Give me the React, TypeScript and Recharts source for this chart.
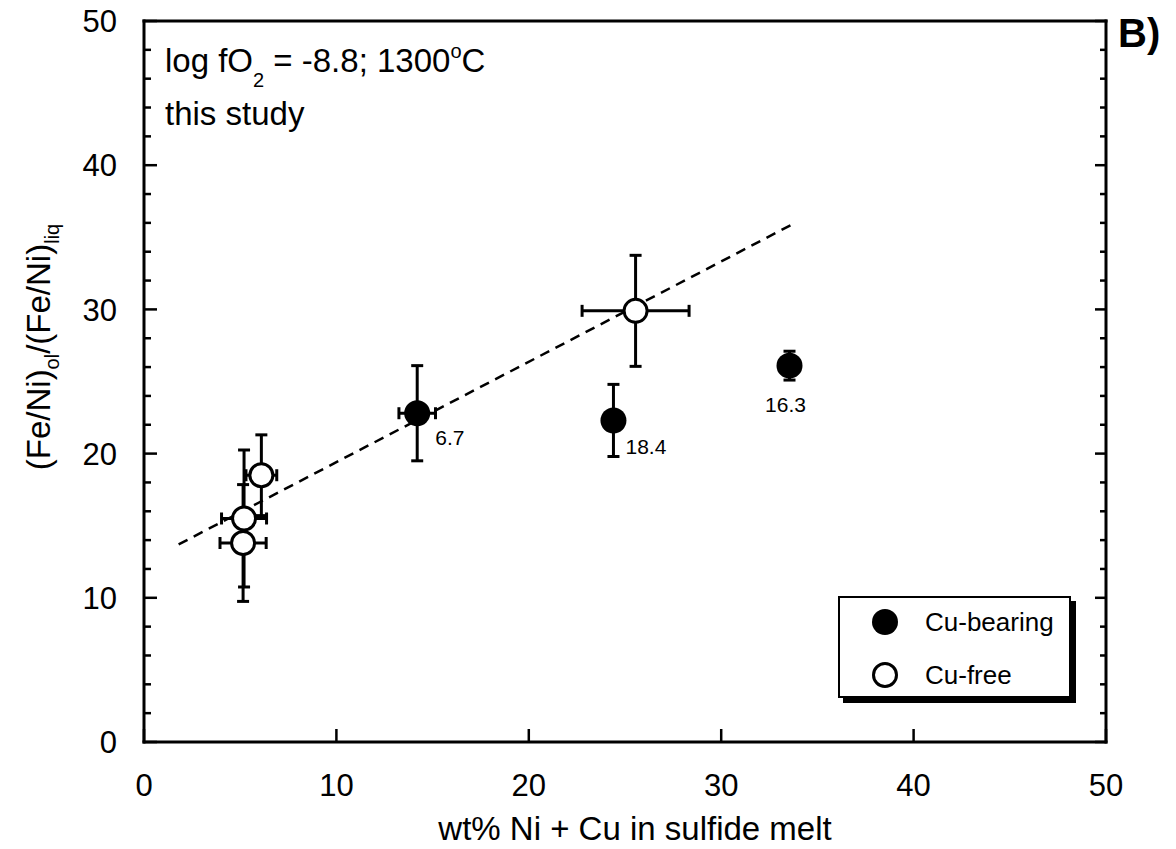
import { ScatterChart, Scatter, XAxis, YAxis, ErrorBar, Legend } from 'recharts'

// axis ticks
const xTicks = [0, 10, 20, 30, 40, 50]
const yTicks = [0, 2, 4, 6, 8, 10, 12, 14, 16, 18, 20, 22, 24, 26, 28, 30, 32, 34, 36, 38, 40, 42, 44, 46, 48, 50]

// Cu-bearing experiments
const cuBearingX = [14.2, 24.4, 33.55]
const cuBearingY = [22.8, 22.3, 26.1]
const cuBearingXErr = [0.95, 0, 0]
const cuBearingYErr = [3.3, 2.5, 1.0]
const cuBearingLabels = ['6.7', '18.4', '16.3']

// Cu-free experiments
const cuFreeX = [5.15, 5.2, 6.1, 25.55]
const cuFreeY = [13.8, 15.5, 18.5, 29.9]
const cuFreeXErr = [1.2, 1.17, 0.8, 2.78]
const cuFreeYErr = [4.05, 4.75, 2.8, 3.85]

// dashed trend line end points
const trendX = [1.8, 33.7]
const trendY = [13.7, 35.9]

const FONT = '"Liberation Sans", Arial, Helvetica, sans-serif'

const cuBearing = cuBearingX.map((x, i) => ({
  x,
  y: cuBearingY[i],
  ex: cuBearingXErr[i],
  ey: cuBearingYErr[i],
  label: cuBearingLabels[i],
}))
const cuFree = cuFreeX.map((x, i) => ({ x, y: cuFreeY[i], ex: cuFreeXErr[i], ey: cuFreeYErr[i] }))
const trend = trendX.map((x, i) => ({ x, y: trendY[i] }))

// label placement next to the filled points: [dx, dy, anchor]
const labelPos: Record<string, [number, number, string]> = {
  '6.7': [18, 32, 'start'],
  '18.4': [12, 34, 'start'],
  '16.3': [-4, 46, 'middle'],
}

const LeftTick = (props: any) => {
  const { x, y, payload } = props
  const major = payload.value % 10 === 0
  return (
    <g>
      <line x1={x} y1={y} x2={x + (major ? 13 : 7)} y2={y} stroke="#000" strokeWidth={2.5} />
      {major && (
        <text x={x - 27} y={y} dy="0.36em" textAnchor="end" fontSize={31} fill="#000" fontFamily={FONT}>
          {payload.value}
        </text>
      )}
    </g>
  )
}

const RightTick = (props: any) => {
  const { x, y, payload } = props
  const major = payload.value % 10 === 0
  return <line x1={x} y1={y} x2={x - (major ? 11 : 6)} y2={y} stroke="#000" strokeWidth={2.5} />
}

const BottomTick = (props: any) => {
  const { x, y, payload } = props
  return (
    <g>
      <line x1={x} y1={y} x2={x} y2={y - 13} stroke="#000" strokeWidth={2.5} />
      <text x={x} y={y + 54} textAnchor="middle" fontSize={31} fill="#000" fontFamily={FONT}>
        {payload.value}
      </text>
    </g>
  )
}

const TopTick = (props: any) => {
  const { x, y } = props
  return <line x1={x} y1={y} x2={x} y2={y + 13} stroke="#000" strokeWidth={2.5} />
}

const FilledDot = (props: any) => {
  const { cx, cy, payload } = props
  const pos = labelPos[payload.label]
  return (
    <g>
      <circle cx={cx} cy={cy} r={13} fill="#000" />
      {pos && (
        <text x={cx + pos[0]} y={cy + pos[1]} textAnchor={pos[2]} fontSize={21} fill="#000" fontFamily={FONT}>
          {payload.label}
        </text>
      )}
    </g>
  )
}

const OpenDot = (props: any) => {
  const { cx, cy } = props
  return <circle cx={cx} cy={cy} r={11.5} fill="#fff" stroke="#000" strokeWidth={3} />
}

const NoDot = () => <g />

const LegendBox = (props: any) => {
  const items = (props.payload ?? []).filter((p: any) => p.value === 'Cu-bearing' || p.value === 'Cu-free')
  return (
    <div
      style={{
        position: 'relative',
        width: 233,
        height: 102,
        boxSizing: 'border-box',
        border: '2px solid #000',
        boxShadow: '5px 5px 0 #000',
        background: '#fff',
        fontFamily: FONT,
      }}
    >
      {items.map((p: any, i: number) => {
        const filled = p.value === 'Cu-bearing'
        return (
          <div
            key={p.value}
            style={{ position: 'absolute', left: 30, top: 9 + i * 53, height: 30, display: 'flex', alignItems: 'center' }}
          >
            <svg width={30} height={30}>
              <circle
                cx={15}
                cy={15}
                r={filled ? 13 : 11.5}
                fill={filled ? '#000' : '#fff'}
                stroke="#000"
                strokeWidth={filled ? 0 : 3}
              />
            </svg>
            <span style={{ marginLeft: 25, fontSize: 26, color: '#000', lineHeight: '30px' }}>{p.value}</span>
          </div>
        )
      })}
    </div>
  )
}

export default function App() {
  const axisLine = { stroke: '#000', strokeWidth: 3, strokeLinecap: 'square' as const }
  return (
    <div style={{ background: '#fff', width: 1176, height: 849, margin: '-8px 0 0 -8px' }}>
      <ScatterChart
        width={1176}
        height={849}
        margin={{ top: 16, right: 60, bottom: 47, left: 84 }}
        style={{ fontFamily: FONT }}
      >
        <XAxis
          xAxisId={0}
          type="number"
          dataKey="x"
          domain={[0, 50]}
          ticks={xTicks}
          interval={0}
          allowDataOverflow
          height={60}
          tickSize={0}
          tickMargin={0}
          tickLine={false}
          axisLine={axisLine}
          tick={BottomTick}
        />
        <XAxis
          xAxisId="top"
          orientation="top"
          type="number"
          domain={[0, 50]}
          ticks={xTicks}
          interval={0}
          allowDataOverflow
          height={5}
          tickSize={0}
          tickMargin={0}
          tickLine={false}
          axisLine={axisLine}
          tick={TopTick}
        />
        <YAxis
          yAxisId={0}
          type="number"
          dataKey="y"
          domain={[0, 50]}
          ticks={yTicks}
          interval={0}
          allowDataOverflow
          width={60}
          tickSize={0}
          tickMargin={0}
          tickLine={false}
          axisLine={axisLine}
          tick={LeftTick}
        />
        <YAxis
          yAxisId="right"
          orientation="right"
          type="number"
          domain={[0, 50]}
          ticks={yTicks}
          interval={0}
          allowDataOverflow
          width={10}
          tickSize={0}
          tickMargin={0}
          tickLine={false}
          axisLine={axisLine}
          tick={RightTick}
        />
        <Scatter
          name="trend"
          data={trend}
          line={{ stroke: '#000', strokeWidth: 2.5, strokeDasharray: '10 7' }}
          shape={NoDot}
          legendType="none"
          isAnimationActive={false}
        />
        <Scatter name="Cu-bearing" data={cuBearing} fill="#000" shape={FilledDot} isAnimationActive={false}>
          <ErrorBar dataKey="ex" direction="x" width={6} stroke="#000" strokeWidth={3} isAnimationActive={false} />
          <ErrorBar dataKey="ey" direction="y" width={6} stroke="#000" strokeWidth={3} isAnimationActive={false} />
        </Scatter>
        <Scatter name="Cu-free" data={cuFree} fill="#fff" shape={OpenDot} isAnimationActive={false}>
          <ErrorBar dataKey="ex" direction="x" width={6} stroke="#000" strokeWidth={3} isAnimationActive={false} />
          <ErrorBar dataKey="ey" direction="y" width={6} stroke="#000" strokeWidth={3} isAnimationActive={false} />
        </Scatter>
        <Legend
          layout="vertical"
          align="center"
          verticalAlign="middle"
          content={LegendBox}
          wrapperStyle={{ left: 838, top: 596, width: 233, height: 102 }}
        />

        <text x={165} y={72} fontSize={33} fill="#000" fontFamily={FONT}>
          log fO
          <tspan fontSize={20} dy={15}>2</tspan>
          <tspan dy={-15}> = -8.8; 1300</tspan>
          <tspan fontSize={20} dy={-14}>o</tspan>
          <tspan dy={14}>C</tspan>
        </text>
        <text x={165} y={125} fontSize={33} fill="#000" fontFamily={FONT}>
          this study
        </text>
        <text x={1118} y={47} fontSize={40} fontWeight="bold" fill="#000" fontFamily={FONT}>
          B)
        </text>
        <text x={635} y={840} textAnchor="middle" fontSize={33} fill="#000" fontFamily={FONT}>
          wt% Ni + Cu in sulfide melt
        </text>
        <text transform="translate(50,347) rotate(-90)" textAnchor="middle" fontSize={33} fill="#000" fontFamily={FONT}>
          (Fe/Ni)
          <tspan fontSize={20} dy={9}>ol</tspan>
          <tspan dy={-9}>/(Fe/Ni)</tspan>
          <tspan fontSize={20} dy={9}>liq</tspan>
        </text>
      </ScatterChart>
    </div>
  )
}
